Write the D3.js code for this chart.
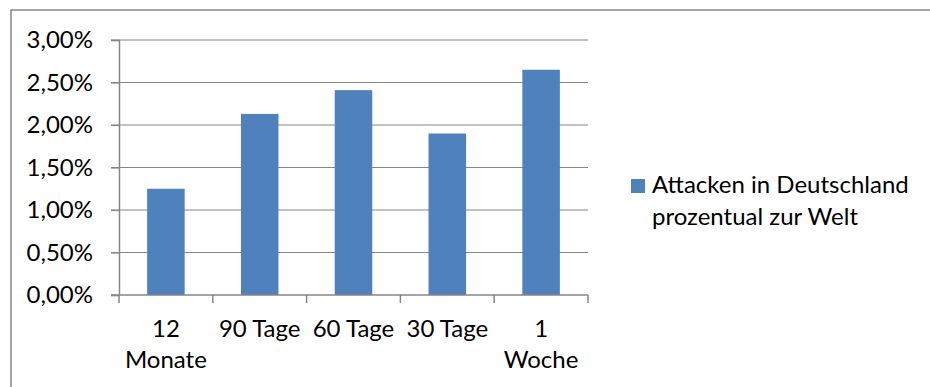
<!DOCTYPE html>
<html>
<head>
<meta charset="utf-8">
<script src="https://cdn.jsdelivr.net/npm/d3@7"></script>
<style>
  body { margin: 0; background: #fff; }
  svg text { font-family: Lato, "Open Sans", sans-serif; fill: #000; }
</style>
</head>
<body>
<svg id="chart" width="930" height="387"></svg>
<script>
// data
var categories = [["12", "Monate"], ["90 Tage"], ["60 Tage"], ["30 Tage"], ["1", "Woche"]];
var values = [1.25, 2.13, 2.41, 1.90, 2.65];
var yTicks = [0, 0.5, 1, 1.5, 2, 2.5, 3];
var seriesName = ["Attacken in Deutschland", "prozentual zur Welt"];

var svg = d3.select("#chart");
var gridColor = "#868686";
var barColor = "#4f81bd";
var fontSize = "24px";

// outer frame (top + left visible)
svg.append("path")
    .attr("d", "M11,400 L11,10 L940,10")
    .attr("fill", "none")
    .attr("stroke", gridColor)
    .attr("stroke-width", 1.5);

var plot = { left: 119, right: 588, top: 40, bottom: 295 };

var x = d3.scaleBand()
    .domain(d3.range(categories.length))
    .range([plot.left, plot.right])
    .paddingInner(0.6)
    .paddingOuter(0.3);

var y = d3.scaleLinear()
    .domain([0, 3])
    .range([plot.bottom, plot.top]);

// gridlines
svg.append("g")
    .selectAll("line")
    .data(yTicks.slice(1))
    .enter()
    .append("line")
        .attr("x1", plot.left - 8)
        .attr("x2", plot.right)
        .attr("y1", function(d) { return y(d); })
        .attr("y2", function(d) { return y(d); })
        .attr("stroke", gridColor)
        .attr("stroke-width", 1.2);

// bars
svg.append("g")
    .selectAll("rect")
    .data(values)
    .enter()
    .append("rect")
        .attr("x", function(d, i) { return x(i); })
        .attr("width", x.bandwidth())
        .attr("y", function(d) { return y(d); })
        .attr("height", function(d) { return y(0) - y(d); })
        .attr("fill", barColor);

// y axis
var yAxis = d3.axisLeft(y)
    .tickValues(yTicks)
    .tickSize(8)
    .tickPadding(18)
    .tickFormat(function(d) { return d3.format(".2f")(d).replace(".", ",") + "%"; });

var gy = svg.append("g")
    .attr("transform", "translate(" + plot.left + ",0)")
    .call(yAxis);
gy.select(".domain").attr("stroke", gridColor).attr("stroke-width", 1.5);
gy.selectAll(".tick line").attr("stroke", gridColor).attr("stroke-width", 1.2);
gy.selectAll("text").style("font-size", fontSize).attr("fill", "#000");

// x axis line with category ticks
var step = (plot.right - plot.left) / categories.length;
var xBounds = d3.range(categories.length + 1).map(function(i) { return plot.left + i * step; });

svg.append("line")
    .attr("x1", plot.left - 8)
    .attr("x2", plot.right)
    .attr("y1", plot.bottom)
    .attr("y2", plot.bottom)
    .attr("stroke", gridColor)
    .attr("stroke-width", 1.5);

svg.append("g")
    .selectAll("line")
    .data(xBounds)
    .enter()
    .append("line")
        .attr("x1", function(d) { return d; })
        .attr("x2", function(d) { return d; })
        .attr("y1", plot.bottom)
        .attr("y2", plot.bottom + 8)
        .attr("stroke", gridColor)
        .attr("stroke-width", 1.5);

// category labels
var lbl = svg.append("g")
    .selectAll("text")
    .data(categories)
    .enter()
    .append("text")
        .attr("text-anchor", "middle")
        .style("font-size", fontSize)
        .attr("x", function(d, i) { return x(i) + x.bandwidth() / 2; })
        .attr("y", 337);

lbl.selectAll("tspan")
    .data(function(d) { return d; })
    .enter()
    .append("tspan")
        .attr("x", function() { return d3.select(this.parentNode).attr("x"); })
        .attr("dy", function(d, i) { return i === 0 ? 0 : 31; })
        .text(function(d) { return d; });

// legend
var legend = svg.append("g");
legend.append("rect")
    .attr("x", 631)
    .attr("y", 179)
    .attr("width", 14)
    .attr("height", 14)
    .attr("fill", barColor);

legend.append("text")
    .style("font-size", fontSize)
    .attr("x", 652)
    .attr("y", 193)
    .selectAll("tspan")
    .data(seriesName)
    .enter()
    .append("tspan")
        .attr("x", 652)
        .attr("dy", function(d, i) { return i === 0 ? 0 : 32; })
        .text(function(d) { return d; });
</script>
</body>
</html>
